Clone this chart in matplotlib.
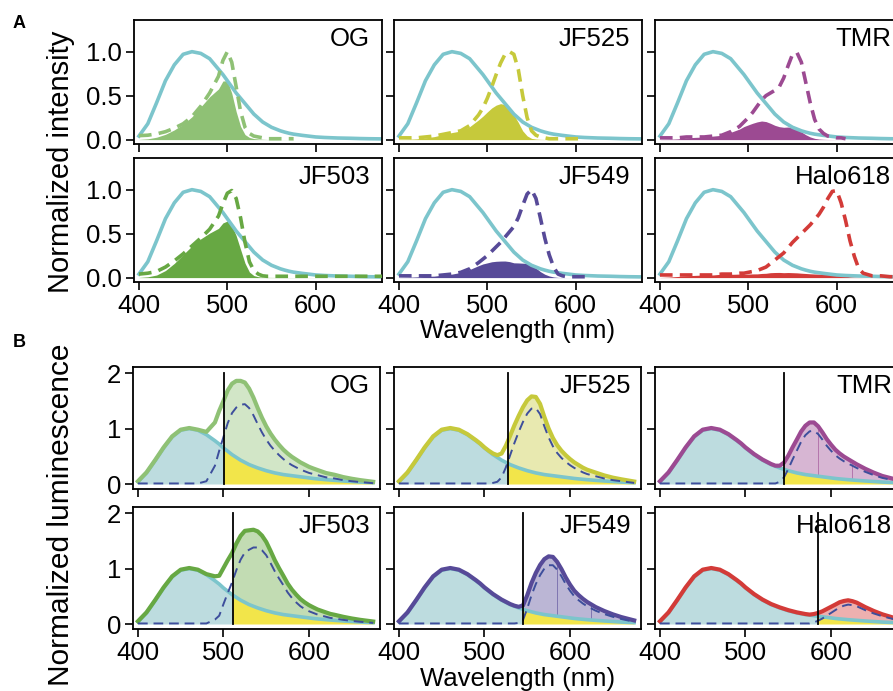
import numpy as np
import matplotlib.pyplot as plt
from matplotlib.patches import Rectangle

plt.rcParams['font.family'] = ['Liberation Sans', 'DejaVu Sans']

nan = np.nan

# wavelength grid (nm)
WL = [400, 410, 420, 430, 440, 450, 460, 470, 480, 490,
      495, 500, 505, 510, 515, 520, 525, 530, 535, 540,
      545, 550, 555, 560, 565, 570, 575, 580, 585, 590,
      595, 600, 605, 610, 615, 620, 625, 630,
      640, 650, 660, 675]

# --- panel A: donor emission (solid cyan) ---
CYAN_A = [0.04, 0.18, 0.42, 0.67, 0.85, 0.97, 1.00, 0.98, 0.92, 0.80,
          0.74, 0.67, 0.60, 0.53, 0.47, 0.41, 0.35, 0.29, 0.245, 0.20,
          0.17, 0.14, 0.12, 0.10, 0.085, 0.072, 0.062, 0.055, 0.048, 0.042,
          0.036, 0.030, 0.027, 0.024, 0.022, 0.020, 0.018, 0.017,
          0.015, 0.012, 0.010, 0.008]

# --- panel A: dye absorbance (dashed) ---
ABS_OG = [0.045, 0.05, 0.065, 0.09, 0.13, 0.18, 0.26, 0.38, 0.53, 0.72,
          0.90, 1.00, 0.88, 0.60, 0.32, 0.14, 0.07, 0.04, 0.03, 0.02,
          0.01, 0.01, 0.01, 0.01, 0.01, 0.01, 0.01, nan, nan, nan,
          nan, nan, nan, nan, nan, nan, nan, nan,
          nan, nan, nan, nan]
ABS_JF503 = [0.04, 0.05, 0.07, 0.12, 0.19, 0.27, 0.36, 0.45, 0.55, 0.70,
             0.84, 0.96, 0.99, 0.90, 0.68, 0.40, 0.18, 0.08, 0.04, 0.02,
             0.015, 0.015, 0.015, 0.015, 0.015, 0.015, 0.015, 0.015, 0.015, 0.015,
             0.015, 0.015, 0.015, 0.015, 0.015, 0.015, 0.015, 0.015,
             0.015, 0.015, 0.015, 0.015]
ABS_JF525 = [0.02, 0.02, 0.02, 0.03, 0.04, 0.06, 0.08, 0.10, 0.16, 0.28,
             0.36, 0.47, 0.60, 0.74, 0.87, 0.97, 1.00, 0.97, 0.80, 0.50,
             0.25, 0.10, 0.05, 0.03, 0.02, 0.01, 0.01, 0.01, 0.01, 0.01,
             0.01, 0.01, 0.01, nan, nan, nan, nan, nan,
             nan, nan, nan, nan]
ABS_TMR = [0.02, 0.02, 0.02, 0.03, 0.03, 0.03, 0.04, 0.05, 0.09, 0.15,
           0.20, 0.25, 0.31, 0.38, 0.45, 0.50, 0.53, 0.56, 0.60, 0.70,
           0.84, 0.97, 0.99, 0.88, 0.65, 0.42, 0.23, 0.12, 0.07, 0.04,
           0.03, 0.02, 0.02, 0.01, nan, nan, nan, nan,
           nan, nan, nan, nan]
ABS_JF549 = [0.02, 0.02, 0.02, 0.02, 0.02, 0.03, 0.04, 0.06, 0.10, 0.17,
             0.21, 0.25, 0.30, 0.35, 0.40, 0.46, 0.52, 0.58, 0.68, 0.82,
             0.95, 1.00, 0.90, 0.68, 0.45, 0.26, 0.12, 0.04, 0.02, 0.01,
             0.01, 0.01, 0.01, 0.01, 0.01, nan, nan, nan,
             nan, nan, nan, nan]
ABS_HALO618 = [0.03, 0.03, 0.03, 0.03, 0.03, 0.03, 0.03, 0.04, 0.04, 0.05,
               0.05, 0.06, 0.07, 0.08, 0.10, 0.12, 0.16, 0.20, 0.24, 0.28,
               0.34, 0.40, 0.45, 0.50, 0.55, 0.60, 0.66, 0.72, 0.80, 0.90,
               0.98, 0.99, 0.85, 0.65, 0.42, 0.24, 0.10, 0.05,
               0.02, 0.02, 0.01, 0.01]

# --- panel B: donor luminescence (cyan) ---
CYAN_B = [0.04, 0.20, 0.42, 0.65, 0.85, 0.97, 1.00, 0.97, 0.89, 0.78,
          0.72, 0.65, 0.59, 0.53, 0.48, 0.43, 0.39, 0.35, 0.32, 0.29,
          0.265, 0.24, 0.22, 0.20, 0.185, 0.17, 0.16, 0.15, 0.14, 0.13,
          0.12, 0.11, 0.10, 0.092, 0.085, 0.078, 0.072, 0.066,
          0.055, 0.045, 0.035, 0.025]

# --- panel B: dye emission (dashed blue) ---
EM_OG = [0.01, 0.01, 0.01, 0.01, 0.01, 0.01, 0.01, 0.01, 0.05, 0.33,
         0.60, 0.85, 1.10, 1.28, 1.38, 1.43, 1.44, 1.37, 1.24, 1.08,
         0.93, 0.80, 0.69, 0.60, 0.52, 0.45, 0.39, 0.34, 0.30, 0.26,
         0.23, 0.20, 0.18, 0.16, 0.14, 0.12, 0.11, 0.10,
         0.07, 0.05, 0.035, 0.015]
EM_JF503 = [0.01, 0.01, 0.01, 0.01, 0.01, 0.01, 0.01, 0.01, 0.01, 0.08,
            0.15, 0.36, 0.56, 0.75, 0.97, 1.16, 1.29, 1.34, 1.38, 1.38,
            1.33, 1.24, 1.10, 0.95, 0.82, 0.70, 0.57, 0.47, 0.39, 0.32,
            0.27, 0.23, 0.20, 0.17, 0.15, 0.13, 0.11, 0.10,
            0.075, 0.055, 0.04, 0.02]
EM_JF525 = [0.01, 0.01, 0.01, 0.01, 0.01, 0.01, 0.01, 0.01, 0.01, 0.01,
            0.01, 0.01, 0.01, 0.02, 0.04, 0.12, 0.30, 0.52, 0.74, 0.94,
            1.12, 1.27, 1.36, 1.37, 1.26, 1.04, 0.84, 0.68, 0.56, 0.47,
            0.40, 0.34, 0.29, 0.25, 0.21, 0.18, 0.16, 0.14,
            0.10, 0.07, 0.05, 0.02]
EM_TMR = [0.01, 0.01, 0.01, 0.01, 0.01, 0.01, 0.01, 0.01, 0.01, 0.01,
          0.01, 0.01, 0.01, 0.01, 0.01, 0.01, 0.01, 0.01, 0.01, 0.04,
          0.12, 0.27, 0.44, 0.60, 0.76, 0.88, 0.95, 0.96, 0.90, 0.80,
          0.69, 0.60, 0.52, 0.46, 0.41, 0.37, 0.33, 0.29,
          0.22, 0.16, 0.11, 0.06]
EM_JF549 = [0.01, 0.01, 0.01, 0.01, 0.01, 0.01, 0.01, 0.01, 0.01, 0.01,
            0.01, 0.01, 0.01, 0.01, 0.01, 0.01, 0.01, 0.01, 0.01, 0.02,
            0.07, 0.28, 0.52, 0.72, 0.88, 1.00, 1.06, 1.06, 0.98, 0.86,
            0.72, 0.60, 0.50, 0.43, 0.37, 0.32, 0.28, 0.24,
            0.18, 0.13, 0.09, 0.04]
EM_HALO618 = [0.01, 0.01, 0.01, 0.01, 0.01, 0.01, 0.01, 0.01, 0.01, 0.01,
              0.01, 0.01, 0.01, 0.01, 0.01, 0.01, 0.01, 0.01, 0.01, 0.01,
              0.01, 0.01, 0.01, 0.01, 0.01, 0.01, 0.01, 0.03, 0.06, 0.10,
              0.15, 0.20, 0.25, 0.30, 0.33, 0.35, 0.34, 0.32,
              0.25, 0.19, 0.14, 0.08]

# filter cut-off wavelength per dye (vertical line in B)
CUTOFF = {"OG": 501, "JF503": 511, "JF525": 528,
          "TMR": 545, "JF549": 545, "Halo618": 585}
# faint seams visible inside some dye fills (nm)
SEAMS = {"TMR": [585, 625], "JF549": [585, 625]}

LAYOUT = [["OG", "JF525", "TMR"], ["JF503", "JF549", "Halo618"]]

ABSORB = {"OG": ABS_OG, "JF503": ABS_JF503, "JF525": ABS_JF525,
          "TMR": ABS_TMR, "JF549": ABS_JF549, "Halo618": ABS_HALO618}
EMIT = {"OG": EM_OG, "JF503": EM_JF503, "JF525": EM_JF525,
        "TMR": EM_TMR, "JF549": EM_JF549, "Halo618": EM_HALO618}
COLOR = {"OG": "#8fc175", "JF503": "#67a843", "JF525": "#c6c93b",
         "TMR": "#9c4a92", "JF549": "#574a98", "Halo618": "#d33b38"}

CYAN = "#7cc5cc"
TEAL_FILL = "#bddcdf"
YELLOW = "#f2e54a"
DASH_BLUE = "#3d4e9c"

wl = np.array(WL, dtype=float)
cyan_a = np.array(CYAN_A)
cyan_b = np.array(CYAN_B)

W, H = 893, 691
fig = plt.figure(figsize=(W / 100, H / 100), dpi=100)


def add_ax(left, top, width, height):
    return fig.add_axes([left / W, 1 - (top + height) / H, width / W, height / H])


def style(ax, show_x, show_y):
    ax.tick_params(direction='out', length=5.5, width=1.2, labelsize=18.5,
                   pad=3, top=False, right=False,
                   labelbottom=show_x, labelleft=show_y)
    for s in ax.spines.values():
        s.set_linewidth(1.3)


# ---- panel A ----
a_lefts = [134, 394, 655]
a_tops = [20, 158]
for r, row in enumerate(LAYOUT):
    for c, name in enumerate(row):
        ax = add_ax(a_lefts[c], a_tops[r], 248, 124)
        col = COLOR[name]
        absorb = np.array(ABSORB[name])
        overlap = cyan_a * absorb
        ax.fill_between(wl, 0, overlap, color=col, lw=0, zorder=1)
        ax.plot(wl, cyan_a, color=CYAN, lw=2.6, zorder=2)
        ax.plot(wl, absorb, color=col, lw=2.6, ls=(0, (3.5, 2)), zorder=3)
        ax.set_xlim(394.4, 675)
        ax.set_ylim(-0.05, 1.36)
        ax.set_xticks([400, 500, 600])
        ax.set_yticks([0, 0.5, 1.0])
        ax.set_yticklabels(["0.0", "0.5", "1.0"])
        ax.text(0.952, 0.94, name, transform=ax.transAxes, ha='right',
                va='top', fontsize=18.5)
        style(ax, r == 1, c == 0)

# ---- panel B ----
b_lefts = [133, 394, 655]
b_tops = [367, 507]
for r, row in enumerate(LAYOUT):
    for c, name in enumerate(row):
        ax = add_ax(b_lefts[c], b_tops[r], 247, 122)
        col = COLOR[name]
        em = np.array(EMIT[name])
        total = cyan_b + em
        cut = CUTOFF[name]
        clip_l = Rectangle((380, -1), cut - 380, 5, transform=ax.transData)
        clip_r = Rectangle((cut, -1), 400, 5, transform=ax.transData)
        f = ax.fill_between(wl, 0, cyan_b, color=TEAL_FILL, lw=0, zorder=1)
        f.set_clip_path(clip_l)
        f = ax.fill_between(wl, 0, cyan_b, color=YELLOW, lw=0, zorder=1)
        f.set_clip_path(clip_r)
        f = ax.fill_between(wl, cyan_b, total, color=col, alpha=0.4, lw=0, zorder=1)
        f.set_clip_path(clip_r)
        for s in SEAMS.get(name, []):
            k = WL.index(s)
            ax.plot([s, s], [cyan_b[k], total[k]], color=col, lw=0.7,
                    alpha=0.6, zorder=1.5)
        ax.plot(wl, cyan_b, color=CYAN, lw=2.6, zorder=2)
        ax.plot(wl, total, color=col, lw=3.0, zorder=3)
        ax.plot(wl, em, color=DASH_BLUE, lw=1.4, ls=(0, (5, 3)), zorder=4)
        ax.plot([cut, cut], [0, 2.0], color='black', lw=1.3, zorder=5)
        ax.set_xlim(394.2, 683)
        ax.set_ylim(-0.09, 2.11)
        ax.set_xticks([400, 500, 600])
        ax.set_yticks([0, 1, 2])
        ax.text(0.96, 0.94, name, transform=ax.transAxes, ha='right',
                va='top', fontsize=18.5, zorder=3)
        style(ax, r == 1, c == 0)

# ---- labels ----
fig.text(13 / W, 1 - 28 / H, "A", fontsize=13, fontweight='bold')
fig.text(13 / W, 1 - 347 / H, "B", fontsize=13, fontweight='bold')
fig.text(61 / W, 1 - 162 / H, "Normalized intensity", rotation=90,
         ha='center', va='center', fontsize=21)
fig.text(61 / W, 1 - 515 / H, "Normalized luminescence", rotation=90,
         ha='center', va='center', fontsize=21.5)
fig.text(518 / W, 1 - 331 / H, "Wavelength (nm)", ha='center', va='center',
         fontsize=18.5)
fig.text(518 / W, 1 - 679 / H, "Wavelength (nm)", ha='center', va='center',
         fontsize=18.5)

fig.savefig("out.png", dpi=100)
